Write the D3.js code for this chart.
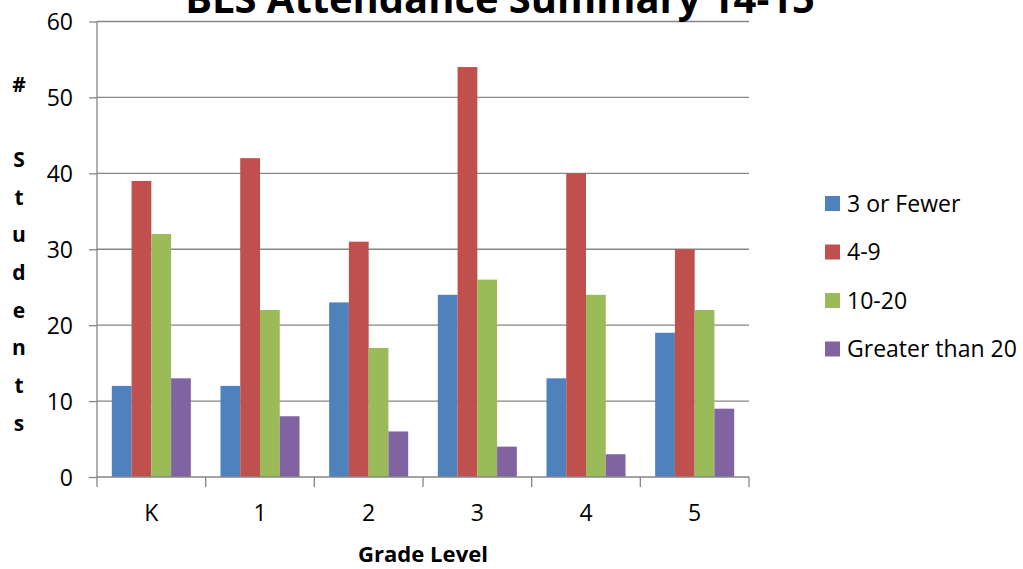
<!DOCTYPE html>
<html><head><meta charset="utf-8">
<script src="https://cdn.jsdelivr.net/npm/d3@7/dist/d3.min.js"></script>
<style>body{margin:0;background:#fff}svg{display:block}text{font-family:"Open Sans",sans-serif;fill:#000}</style>
</head><body>
<svg id="c" width="1023" height="569"></svg>
<script>
const categories = ["K","1","2","3","4","5"];
const seriesNames = ["3 or Fewer","4-9","10-20","Greater than 20"];
const fewer3 = [12,12,23,24,13,19];
const range4to9 = [39,42,31,54,40,30];
const range10to20 = [32,22,17,26,24,22];
const over20 = [13,8,6,4,3,9];
const seriesValues = [fewer3, range4to9, range10to20, over20];
const yTicks = [0,10,20,30,40,50,60];
const colors = ["#4F81BD","#C0504D","#9BBB59","#8064A2"];

const svg = d3.select("#c");
const L=97, R=749, T=21.5, B=477;
const x0 = d3.scaleBand().domain(categories).range([L,R]).paddingInner(0).paddingOuter(0);
const x1 = d3.scaleBand().domain(seriesNames).range([0,x0.bandwidth()]).paddingInner(0).paddingOuter(0.75);
const y = d3.scaleLinear().domain([0,60]).range([B,T]);
const grey = "#868686";

// gridlines
svg.append("g").selectAll("line").data(yTicks.filter(d=>d>0)).join("line")
  .attr("x1",L).attr("x2",R).attr("y1",d=>y(d)).attr("y2",d=>y(d))
  .attr("stroke",grey).attr("stroke-width",1.3);

// bars
seriesNames.forEach((s,i)=>{
  svg.append("g").selectAll("rect").data(categories).join("rect")
    .attr("x",c=>x0(c)+x1(s)).attr("width",x1.bandwidth())
    .attr("y",(c,j)=>y(seriesValues[i][j])).attr("height",(c,j)=>B-y(seriesValues[i][j]))
    .attr("fill",colors[i]);
});

// y axis
const ya = svg.append("g").attr("transform",`translate(${L},0)`)
  .call(d3.axisLeft(y).tickValues(yTicks).tickSize(8).tickPadding(16).tickFormat(d3.format("d")));
ya.select(".domain").attr("stroke",grey).attr("stroke-width",1.3).attr("d",`M0,${T}V${B}`);
ya.selectAll(".tick line").attr("stroke",grey).attr("stroke-width",1.3);
ya.selectAll(".tick text").style("font-size","23px").attr("dy","0.36em");

// x axis
const xa = svg.append("g").attr("transform",`translate(0,${B})`)
  .call(d3.axisBottom(x0).tickSize(0).tickPadding(36));
xa.select(".domain").attr("stroke",grey).attr("stroke-width",1.3).attr("d",`M${L},0H${R}`);
xa.selectAll(".tick text").style("font-size","23px").attr("dy","0.36em");
const bounds = categories.map(c=>x0(c)).concat([R]);
xa.selectAll(".bt").data(bounds).join("line").attr("class","bt")
  .attr("x1",d=>d).attr("x2",d=>d).attr("y1",0).attr("y2",10)
  .attr("stroke",grey).attr("stroke-width",1.3);

// title (cut off at the top edge, as in the reference)
const title = svg.append("text").attr("x",500).attr("y",13).attr("text-anchor","middle")
  .style("font-weight","bold").style("font-size","36px").text("BLS Attendance Summary 14-15");
const tw = title.node().getComputedTextLength();
title.style("font-size",(36*630/tw)+"px");

// x title
const xt = svg.append("text").attr("x",423).attr("y",562).attr("text-anchor","middle")
  .style("font-weight","bold").style("font-size","22px").text("Grade Level");
const xw = xt.node().getComputedTextLength();
xt.style("font-size",(22*130/xw)+"px");

// y title stacked
const yLabel = "# Students".split("");
svg.append("g").selectAll("text").data(yLabel).join("text")
  .attr("x",19).attr("y",(d,i)=>84+i*37.7).attr("dy","0.36em").attr("text-anchor","middle")
  .style("font-weight","bold").style("font-size","21px").text(d=>d);

// legend
const lg = svg.append("g");
const lgTexts = [];
seriesNames.forEach((s,i)=>{
  const cy = 203.5 + i*48.5;
  lg.append("rect").attr("x",825).attr("y",cy-7.5).attr("width",15).attr("height",15).attr("fill",colors[i]);
  lgTexts.push(lg.append("text").attr("x",847).attr("y",cy).attr("dy","0.36em").style("font-size","21px").text(s));
});
const lw = lgTexts[3].node().getComputedTextLength();
const lfs = Math.min(24, 21*170/lw);
lgTexts.forEach(t=>t.style("font-size",lfs+"px"));
</script>
</body></html>
